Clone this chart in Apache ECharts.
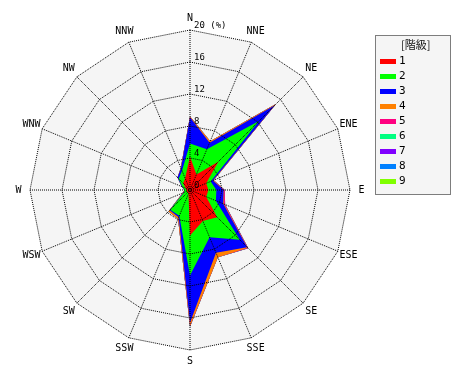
<!DOCTYPE html>
<html><head><meta charset="utf-8">
<script src="https://cdn.jsdelivr.net/npm/echarts@6/dist/echarts.min.js"></script>
<style>html,body{margin:0;padding:0;background:#fff}#c{width:470px;height:380px}</style>
</head><body><div id="c"></div>
<script>
// Compass directions (clockwise from north)
const directions = ['N','NNE','NE','ENE','E','ESE','SE','SSE','S','SSW','SW','WSW','W','WNW','NW','NNW'];
const classNames = ['1','2','3','4','5','6','7','8','9'];
const classColors = ['#ff0000','#00ff00','#0000ff','#ff8000','#ff0080','#00ff80','#8000ff','#0080ff','#80ff00'];
// frequency (%) of each class per direction
const class1 = [4.2, 2.1, 5.0, 2.2, 2.3, 2.2, 4.8, 4.2, 5.7, 0.5, 0.4, 0.4, 0.4, 0.6, 1.2, 1.6];
const class2 = [1.6, 3.4, 7.2, 0.6, 1.0, 1.3, 4.0, 2.2, 5.0, 3.0, 3.1, 0.4, 0.3, 0.4, 0.8, 1.0];
const class3 = [3.3, 0.9, 2.8, 0.3, 0.9, 1.0, 1.3, 2.1, 5.9, 0.2, 0.1, 0.1, 0.0, 0.1, 0.2, 0.35];
const class4 = [0.1, 0.2, 0.2, 0.1, 0.05, 0.1, 0.1, 0.6, 0.4, 0.2, 0.2, 0.1, 0.0, 0.0, 0.0, 0.05];
const class5 = [0.0, 0.0, 0.0, 0.0, 0.1, 0.15, 0.1, 0.0, 0.1, 0.0, 0.0, 0.0, 0.0, 0.0, 0.0, 0.0];
const class6 = [0, 0, 0, 0, 0, 0, 0, 0, 0, 0, 0, 0, 0, 0, 0, 0];
const class7 = [0, 0, 0, 0, 0, 0, 0, 0, 0, 0, 0, 0, 0, 0, 0, 0];
const class8 = [0, 0, 0, 0, 0, 0, 0, 0, 0, 0, 0, 0, 0, 0, 0, 0];
const class9 = [0, 0, 0, 0, 0, 0, 0, 0, 0, 0, 0, 0, 0, 0, 0, 0];
const tickMax = 20, tickStep = 4, unitLabel = '(%)';

const classes = [class1,class2,class3,class4,class5,class6,class7,class8,class9];
// ECharts radar runs counter-clockwise; reorder so it reads clockwise
const order = directions.map((d,i)=> i===0 ? 0 : directions.length - i);
const reorder = arr => order.map(i => arr[i]);
let running = directions.map(()=>0);
const cumulative = classes.map(c => { running = running.map((v,i)=>v+c[i]); return running.slice(); });

const font = "'DejaVu Sans Mono', monospace";
const indicator = order.map(i => ({name: directions[i], min: 0, max: tickMax}));
const dotted = {color:'#000', type:[1,1], width:1};

const data = [];
for (let k = classes.length - 1; k >= 0; k--) {
  data.push({
    name: classNames[k],
    value: reorder(cumulative[k]),
    symbol: 'none',
    itemStyle: {color: classColors[k]},
    lineStyle: {width: 0, color: classColors[k]},
    areaStyle: {color: classColors[k], opacity: 1}
  });
}

const chart = echarts.init(document.getElementById('c'), null, {renderer:'canvas'});
chart.setOption({
  animation: false,
  backgroundColor: '#fff',
  title: {text: '[階級]', left: 396, top: 34,
    textStyle: {fontFamily: "'Noto Sans CJK JP', monospace", fontSize: 11, fontWeight: 'normal', color: '#111'}},
  legend: {orient: 'vertical', left: 375, top: 51, itemWidth: 16, itemHeight: 5, itemGap: 4, icon: 'rect',
    data: classNames, textStyle: {fontFamily: font, fontSize: 11, color: '#000', padding: [0,0,0,-2]}},
  graphic: [{type:'rect', z: 0, shape:{x:375.5, y:35.5, width:75, height:159},
    style:{fill:'#f5f5f5', stroke:'#000', lineWidth:1, lineDash:[1,1]}}],
  polar: {center:[190,190], radius:160, z:5},
  angleAxis: {type:'value', min:0, max:360, interval:360/directions.length, startAngle:90, z:5,
    axisLine:{show:false}, axisTick:{show:false}, axisLabel:{show:false},
    splitLine:{show:true, lineStyle: dotted}},
  radiusAxis: {type:'value', min:0, max:tickMax, interval: tickStep, z:6,
    splitLine:{show:false}, axisLine:{show:false}, axisTick:{show:false},
    axisLabel:{show:true, color:'#000', fontFamily: font, fontSize: 9, margin: -4, align:'left', verticalAlign:'bottom',
       formatter: v => v === tickMax ? v + ' ' + unitLabel : String(v)}},
  radar: [
    {center:[190,190], radius:160, shape:'polygon', splitNumber: tickMax/tickStep, startAngle:90, z:1,
     indicator: indicator, axisName:{show:false},
     splitArea:{show:true, areaStyle:{color:['#f5f5f5']}}, splitLine:{show:false},
     axisLine:{show:false}, axisTick:{show:false}, axisLabel:{show:false}},
    {center:[190,190], radius:160, shape:'polygon', splitNumber: tickMax/tickStep, startAngle:90, z:5,
     indicator: indicator, nameGap: 11.5,
     axisName:{show:true, color:'#000', fontFamily: font, fontSize: 10, align:'center', verticalAlign:'middle'},
     splitArea:{show:false}, splitLine:{show:true, lineStyle: dotted},
     axisLine:{show:false}, axisTick:{show:false}, axisLabel:{show:false}}
  ],
  series: [{type:'radar', radarIndex:0, z:2, symbol:'none', data: data}]
});
</script></body></html>
